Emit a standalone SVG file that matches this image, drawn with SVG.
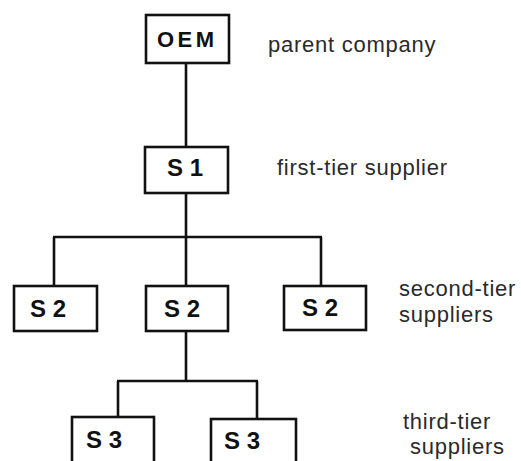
<svg xmlns="http://www.w3.org/2000/svg" width="521" height="461" viewBox="0 0 521 461">
<style>
.box{fill:#fff;stroke:#111;stroke-width:2.6}
.lbl{font-family:"Liberation Sans",Arial,sans-serif;font-weight:bold;font-size:24px;fill:#111}
.oem{font-size:22px;letter-spacing:3.5px}
.cap{font-family:"Liberation Sans",Arial,sans-serif;font-size:22px;letter-spacing:0.75px;fill:#2a2a2a}
#connectors path{fill:none;stroke:#111;stroke-width:2.6}
</style>
<rect width="521" height="461" fill="#fff"/>
<g id="connectors">
<path d="M186 63V147"/>
<path d="M186 193V237"/>
<path d="M53 237H322"/>
<path d="M54 237V286M186 237V286M321 237V286"/>
<path d="M186 331V381"/>
<path d="M117 381H258"/>
<path d="M118 381V417M257 381V419"/>
</g>
<g id="oem">
<rect class="box" x="146" y="15" width="83" height="48"/>
<text class="lbl oem" x="157" y="47">OEM</text>
</g>
<g id="s1">
<rect class="box" x="145" y="147" width="83" height="46"/>
<text class="lbl" x="167" y="176">S 1</text>
</g>
<g id="s2a">
<rect class="box" x="14" y="286" width="83" height="45"/>
<text class="lbl" x="30" y="317">S 2</text>
</g>
<g id="s2b">
<rect class="box" x="146" y="286" width="82" height="45"/>
<text class="lbl" x="164" y="317">S 2</text>
</g>
<g id="s2c">
<rect class="box" x="284" y="286" width="82" height="44"/>
<text class="lbl" x="302" y="316">S 2</text>
</g>
<g id="s3a">
<rect class="box" x="72" y="417" width="82" height="60"/>
<text class="lbl" x="86" y="448">S 3</text>
</g>
<g id="s3b">
<rect class="box" x="211" y="419" width="85" height="60"/>
<text class="lbl" x="224" y="449">S 3</text>
</g>
<g id="captions">
<text class="cap" x="268" y="52">parent company</text>
<text class="cap" x="277" y="175">first-tier supplier</text>
<text class="cap" x="399" y="296">second-tier</text>
<text class="cap" x="399" y="321.5">suppliers</text>
<text class="cap" x="403" y="428.5">third-tier</text>
<text class="cap" x="410" y="454">suppliers</text>
</g>
</svg>
